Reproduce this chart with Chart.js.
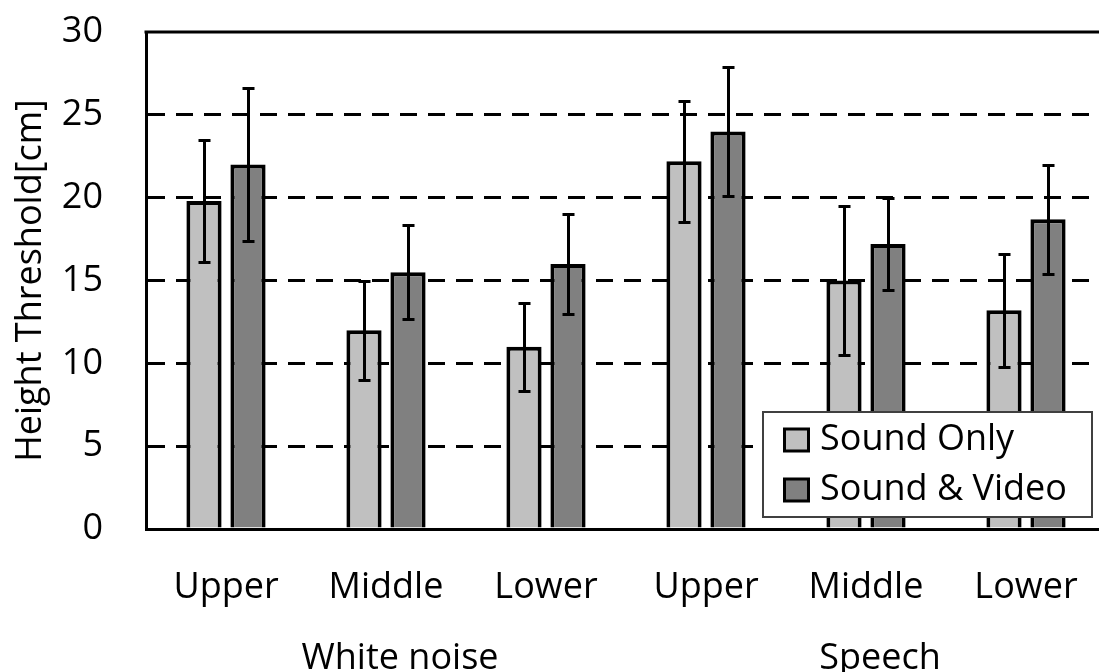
<!DOCTYPE html>
<html>
<head>
<meta charset="utf-8">
<script src="https://cdn.jsdelivr.net/npm/chart.js@4.4.0/dist/chart.umd.min.js"></script>
<style>
    html, body { margin: 0; padding: 0; background: #ffffff; overflow: hidden; }
    #caixa { width: 1110px; height: 672px; }
</style>
</head>
<body>
<div id="caixa"><canvas id="grafico" width="1110" height="672"></canvas></div>
<script>
const categorias = ["Upper", "Middle", "Lower", "Upper", "Middle", "Lower"];
const grupos = ["White noise", "Speech"];
const grupoDeCada = [0, 0, 0, 1, 1, 1];
const series = ["Sound Only", "Sound & Video"];
const somApenas = [19.8, 12.0, 11.0, 22.2, 15.0, 13.2];
const somApenasErro = [3.7, 3.0, 2.65, 3.65, 4.5, 3.4];
const somVideo = [22.0, 15.5, 16.0, 24.0, 17.2, 18.7];
const somVideoErro = [4.6, 2.85, 3.0, 3.9, 2.8, 3.3];
const ticksY = [0, 5, 10, 15, 20, 25, 30];

const fonte = "'Open Sans', sans-serif";
const cores = ['#C0C0C0', '#808080'];
const transparente = 'rgba(0,0,0,0)';

// barras de erro desenhadas por cima das barras
const pluginErros = {
    id: 'erros',
    afterDatasetsDraw(chart) {
        const ctx = chart.ctx;
        const y = chart.scales.y;
        const erros = [somApenasErro, somVideoErro];
        ctx.save();
        ctx.strokeStyle = '#000';
        ctx.lineWidth = 3;
        chart.data.datasets.forEach((ds, d) => {
            const meta = chart.getDatasetMeta(d);
            meta.data.forEach((barra, i) => {
                const topo = Math.round(y.getPixelForValue(ds.data[i] + erros[d][i])) + 0.5;
                const base = Math.round(y.getPixelForValue(ds.data[i] - erros[d][i])) + 0.5;
                const x = Math.floor(barra.x) + 0.5;
                ctx.beginPath();
                ctx.moveTo(x, topo);
                ctx.lineTo(x, base);
                ctx.moveTo(x - 6, topo);
                ctx.lineTo(x + 6, topo);
                ctx.moveTo(x - 6, base);
                ctx.lineTo(x + 6, base);
                ctx.stroke();
            });
        });
        ctx.restore();
    }
};

// borda de cima, rótulos dos grupos e legenda
const pluginExtras = {
    id: 'extras',
    afterDraw(chart) {
        const ctx = chart.ctx;
        const area = chart.chartArea;
        const x = chart.scales.x;
        ctx.save();
        ctx.strokeStyle = '#000';
        ctx.lineWidth = 3;
        ctx.beginPath();
        ctx.moveTo(area.left - 1.5, area.top);
        ctx.lineTo(area.right, area.top);
        ctx.lineTo(area.right, area.bottom);
        ctx.stroke();

        ctx.fillStyle = '#000';
        ctx.font = "36px " + fonte;
        ctx.textAlign = 'center';
        ctx.textBaseline = 'middle';
        grupos.forEach((g, k) => {
            const idx = [];
            grupoDeCada.forEach((gg, i) => { if (gg === k) idx.push(i); });
            let soma = 0;
            idx.forEach(i => { soma += x.getPixelForValue(i); });
            ctx.fillText(g, soma / idx.length + 14, area.bottom + 130);
        });

        // legenda
        const lx = area.right - 343;
        const ly = area.bottom - 117;
        ctx.fillStyle = '#fff';
        ctx.fillRect(lx, ly, 329, 105);
        ctx.strokeStyle = '#404040';
        ctx.lineWidth = 2;
        ctx.strokeRect(lx, ly, 329, 105);
        ctx.textAlign = 'left';
        chart.data.datasets.forEach((ds, d) => {
            const cy = ly + 28 + d * 50;
            ctx.fillStyle = ds.backgroundColor;
            ctx.fillRect(lx + 21.5, cy - 11, 24, 22);
            ctx.strokeStyle = '#000';
            ctx.lineWidth = 3;
            ctx.strokeRect(lx + 21.5, cy - 11, 24, 22);
            ctx.fillStyle = '#000';
            ctx.fillText(ds.label, lx + 57, cy);
        });
        ctx.restore();
    }
};

new Chart(document.getElementById("grafico"), {
    type: 'bar',
    data: {
        labels: categorias,
        datasets: [
            {
                label: series[0],
                data: somApenas,
                backgroundColor: cores[0],
                borderColor: '#000',
                borderWidth: 4,
                categoryPercentage: 0.55,
                barPercentage: 0.8
            },
            {
                label: series[1],
                data: somVideo,
                backgroundColor: cores[1],
                borderColor: '#000',
                borderWidth: 4,
                categoryPercentage: 0.55,
                barPercentage: 0.8
            }
        ]
    },
    options: {
        responsive: false,
        animation: false,
        layout: { padding: { top: 32, right: 4, left: 0, bottom: 0 } },
        plugins: {
            legend: { display: false },
            tooltip: { enabled: false }
        },
        scales: {
            x: {
                grid: { display: true, color: transparente, tickColor: transparente, drawTicks: true, tickLength: 37 },
                border: { display: true, color: '#000', width: 3 },
                ticks: { color: '#000', font: { family: fonte, size: 36 }, padding: 0, maxRotation: 0 },
                afterFit(scale) { scale.height = 143; }
            },
            y: {
                min: 0,
                max: 30,
                afterBuildTicks(scale) { scale.ticks = ticksY.map(v => ({ value: v })); },
                grid: {
                    drawTicks: true,
                    tickLength: 43,
                    tickColor: transparente,
                    lineWidth: 3,
                    color: ctx => (ctx.tick && (ctx.tick.value === 0 || ctx.tick.value === 30)) ? transparente : '#000'
                },
                border: { display: true, color: '#000', width: 3, dash: [17, 11] },
                ticks: { color: '#000', font: { family: fonte, size: 36 }, padding: 0 },
                title: {
                    display: true,
                    text: "Height Threshold[cm]",
                    color: '#000',
                    font: { family: fonte, size: 36 },
                    padding: { top: 9, bottom: 0 }
                },
                afterFit(scale) { scale.width = 146; }
            }
        }
    },
    plugins: [pluginErros, pluginExtras]
});
</script>
</body>
</html>
